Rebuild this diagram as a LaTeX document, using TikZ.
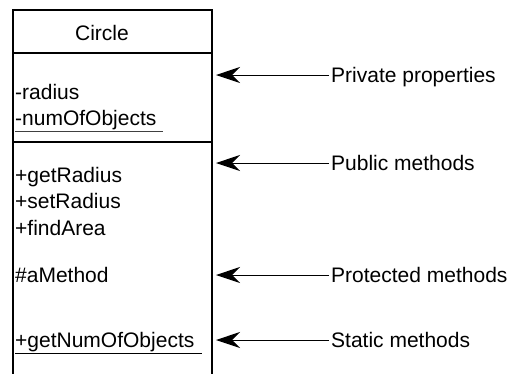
\documentclass[tikz,border=0pt]{standalone}
\usepackage{fontspec}
\setmainfont{Liberation Sans}
\usetikzlibrary{arrows.meta}
\begin{document}
\begin{tikzpicture}[x=1pt,y=-1pt,
  txt/.style={anchor=base west,inner sep=0pt,font=\fontsize{21}{24}\selectfont},
  lbl/.style={anchor=base west,inner sep=0pt,font=\fontsize{21}{24}\selectfont},
  boxline/.style={line width=2pt},
  ptr/.style={line width=1pt,-{Stealth[length=24pt,width=16pt,inset=8pt]}},
  uline/.style={line width=1pt}]
\useasboundingbox (0,0) rectangle (512,373);
% class box
\draw[boxline] (13,374) -- (13,10) -- (212,10) -- (212,374);
\draw[boxline] (13,53) -- (212,53);
\draw[boxline] (13,142) -- (212,142);
% texts
\node[anchor=base,inner sep=0pt,font=\fontsize{21}{24}\selectfont] (title) at (102,40.5) {Circle};
\node[txt] (r) at (15,99) {-radius};
\node[txt] (n) at (15,125) {-numOfObjects};
\draw[uline,black!75] (15,131) -- (163,131);
\node[txt] (g) at (15,182) {+getRadius};
\node[txt] (s) at (15,208) {+setRadius};
\node[txt] (f) at (15,235) {+findArea};
\node[txt] (a) at (15,282) {\#aMethod};
\node[txt] (gn) at (15,347) {+getNumOfObjects};
\draw[uline] (15,353.5) -- (202,353.5);
% labels
\node[lbl] (l1) at (331,82) {Private properties};
\node[lbl] (l2) at (331,170) {Public methods};
\node[lbl] (l3) at (331,282) {Protected methods};
\node[lbl] (l4) at (331,347) {Static methods};
\coordinate (e1) at (216,75);
\coordinate (e2) at (216,163);
\coordinate (e3) at (216,275);
\coordinate (e4) at (216,340);
\draw[ptr] ([xshift=-2pt,yshift=7pt]l1.base west) -- (e1);
\draw[ptr] ([xshift=-2pt,yshift=7pt]l2.base west) -- (e2);
\draw[ptr] ([xshift=-2pt,yshift=7pt]l3.base west) -- (e3);
\draw[ptr] ([xshift=-2pt,yshift=7pt]l4.base west) -- (e4);
\end{tikzpicture}
\end{document}
